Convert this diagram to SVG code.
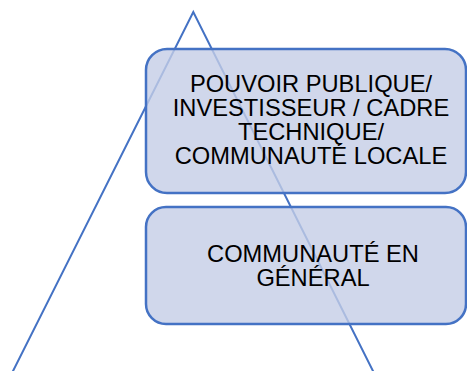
<svg xmlns="http://www.w3.org/2000/svg" width="467" height="371" viewBox="0 0 467 371">
<style>
.box{fill:#c4cde6;fill-opacity:0.8;stroke:#4472C4;stroke-width:2.5}
.lbl{font-family:"Liberation Sans",Arial,sans-serif;font-size:23.7px;fill:#000;text-anchor:middle}
.tri{fill:none;stroke:#4472C4;stroke-width:2}
</style>
<rect width="467" height="371" fill="#fff"/>
<g id="connectors">
<polyline class="tri" points="8,381 193.3,12 378,381"/>
</g>
<g id="node1">
<rect class="box" x="146" y="49" width="320" height="144" rx="21"/>
<text class="lbl" x="311" y="91.5">POUVOIR PUBLIQUE/</text>
<text class="lbl" x="311" y="116">INVESTISSEUR / CADRE</text>
<text class="lbl" x="311" y="140">TECHNIQUE/</text>
<text class="lbl" x="311" y="164">COMMUNAUTÉ LOCALE</text>
</g>
<g id="node2">
<rect class="box" x="146" y="207" width="320" height="117" rx="20"/>
<text class="lbl" x="313" y="262">COMMUNAUTÉ EN</text>
<text class="lbl" x="313" y="286">GÉNÉRAL</text>
</g>
</svg>
